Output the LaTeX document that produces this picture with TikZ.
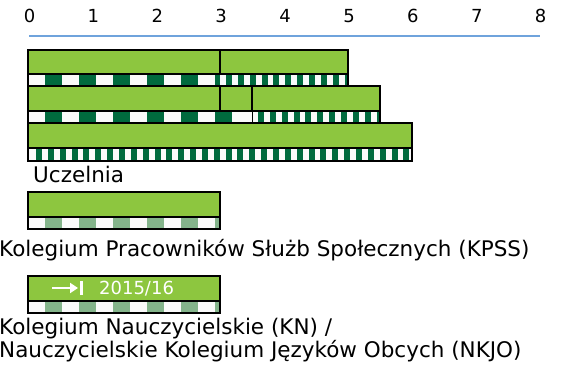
\documentclass[tikz,border=0pt]{standalone}
\usepackage{fontspec}
\setmainfont{DejaVu Sans}
\usetikzlibrary{positioning, arrows.meta}

\definecolor{barGreen}{HTML}{8DC63F}
\definecolor{darkGreen}{HTML}{006A3E}
\definecolor{paleGreen}{HTML}{84B48B}
\definecolor{offWhite}{HTML}{FAFAFA}
\definecolor{axisBlue}{HTML}{6FA3DC}

\begin{document}
\begin{tikzpicture}[
    x=1pt, y=-1pt,
    bar/.style={draw, fill=barGreen, line width=1.3pt},
    stripebox/.style={draw, line width=1.3pt},
    tick/.style={font=\fontsize{18}{20}\selectfont, anchor=base},
    caption/.style={font=\fontsize{21.5}{22.5}\selectfont, anchor=base west, inner sep=0pt, align=left}
]
    \useasboundingbox (0,0) rectangle (567,365);

    % time axis
    \foreach \k in {0,...,8}
        \node[tick] (t\k) at (29.5+63.9*\k, 22.5) {\k};
    \coordinate (axisL) at (29,36);
    \coordinate (axisR) at (540,36);
    \draw[axisBlue, line width=1.6pt] (axisL) -- (axisR);

    % Uczelnia, row 1
    \fill[offWhite] (28,74) rectangle (348,86);
    \foreach \i in {0,...,5}
        \fill[darkGreen] (45+34*\i,74) rectangle ({min(62+34*\i,220)},86);
    \foreach \i in {0,...,10}
        \fill[darkGreen] (226+11.85*\i,74) rectangle ({min(232+11.85*\i,348)},86);
    \draw[stripebox] (28,74) rectangle (348,86);
    \draw[bar] (28,50) rectangle (220,74);
    \draw[bar] (220,50) rectangle (348,74);

    % Uczelnia, row 2
    \fill[offWhite] (28,111) rectangle (380,123);
    \foreach \i in {0,...,5}
        \fill[darkGreen] (45+34*\i,111) rectangle (62+34*\i,123);
    \foreach \i in {0,...,10}
        \fill[darkGreen] (258+11.85*\i,111) rectangle ({min(264+11.85*\i,380)},123);
    \draw[stripebox] (28,111) rectangle (380,123);
    \draw (252,111) -- (252,123);
    \draw[bar] (28,86) rectangle (220,111);
    \draw[bar] (220,86) rectangle (252,111);
    \draw[bar] (252,86) rectangle (380,111);

    % Uczelnia, row 3
    \fill[offWhite] (28,148) rectangle (412,161);
    \foreach \i in {0,...,31}
        \fill[darkGreen] (36+11.85*\i,148) rectangle (42+11.85*\i,161);
    \draw[stripebox] (28,148) rectangle (412,161);
    \draw[bar] (28,123) rectangle (412,148);

    \node[caption] (uczelnia) at (33,182) {Uczelnia};

    % KPSS
    \fill[offWhite] (28,217) rectangle (220,229);
    \foreach \i in {0,...,5}
        \fill[paleGreen] (45+34*\i,217) rectangle ({min(62+34*\i,220)},229);
    \draw[stripebox] (28,217) rectangle (220,229);
    \draw[bar] (28,192) rectangle (220,217);

    \node[caption] (kpss) at (-1,256.5) {Kolegium Pracowników Służb Społecznych (KPSS)};

    % KN / NKJO
    \fill[offWhite] (28,301) rectangle (220,313);
    \foreach \i in {0,...,5}
        \fill[paleGreen] (45+34*\i,301) rectangle ({min(62+34*\i,220)},313);
    \draw[stripebox] (28,301) rectangle (220,313);
    \draw[bar] (28,276) rectangle (220,301);
    \coordinate (arrS) at (52,288);
    \coordinate (arrE) at (78,288);
    \draw[white, line width=2.6pt, -{Triangle[length=8pt,width=10pt]}] (arrS) -- (arrE);
    \draw[white, line width=3pt] (81.5,281) -- (81.5,295);
    \node[white, font=\fontsize{18}{20}\selectfont, anchor=base west, inner sep=0pt] (year) at (99,294) {2015/16};

    \node[caption] (kn) at (-1,357) {Kolegium Nauczycielskie (KN) /\\Nauczycielskie Kolegium Języków Obcych (NKJO)};
\end{tikzpicture}
\end{document}
